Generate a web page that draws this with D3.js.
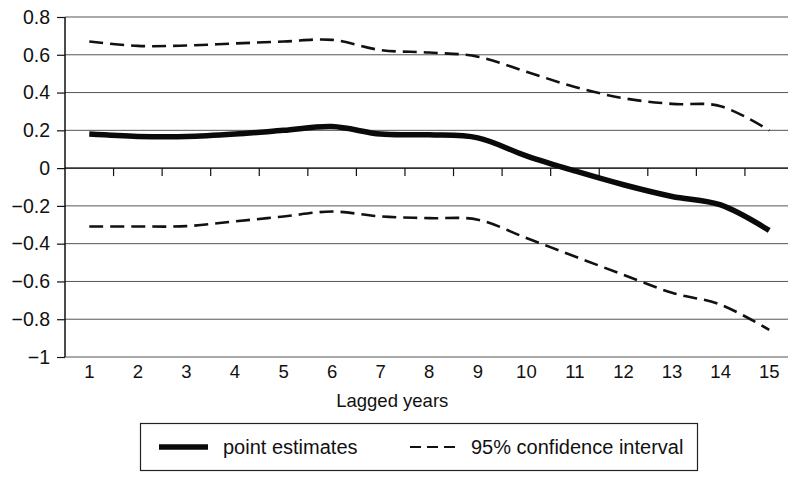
<!DOCTYPE html>
<html><head><meta charset="utf-8">
<script src="https://cdn.jsdelivr.net/npm/d3@7"></script>
<style>body{margin:0;background:#fff}svg{display:block}text{font-family:"Liberation Sans",Arial,sans-serif;fill:#111}</style>
</head><body><svg id="c" width="788" height="477"></svg>
<script>
const categories = ["1","2","3","4","5","6","7","8","9","10","11","12","13","14","15"];
const pointEstimates = [0.18,0.168,0.167,0.18,0.2,0.22,0.18,0.176,0.16,0.065,-0.015,-0.088,-0.15,-0.195,-0.33];
const upperCI = [0.67,0.647,0.649,0.66,0.67,0.679,0.625,0.612,0.59,0.51,0.43,0.37,0.34,0.328,0.2];
const lowerCI = [-0.309,-0.309,-0.307,-0.282,-0.256,-0.23,-0.256,-0.265,-0.273,-0.37,-0.468,-0.565,-0.66,-0.723,-0.856];
const yTicks = [-1,-0.8,-0.6,-0.4,-0.2,0,0.2,0.4,0.6,0.8];
const xTitle = "Lagged years";
const legendLabels = ["point estimates","95% confidence interval"];

const svg = d3.select("#c");
const L = 65, R = 793.5, T = 17, B = 357;
const x = d3.scaleBand().domain(categories).range([L, R]);
const y = d3.scaleLinear().domain([-1, 0.8]).range([B, T]);
const fmt = v => v === 0 ? "0" : (v === -1 ? "\u22121" : (v < 0 ? "\u2212" + Math.abs(v).toFixed(1) : v.toFixed(1)));

// gridlines
svg.append("g").selectAll("line").data(yTicks).join("line")
  .attr("x1", L).attr("x2", R).attr("y1", d => y(d)).attr("y2", d => y(d))
  .attr("stroke", "#555").attr("stroke-width", 1);

// y axis
const yAxis = svg.append("g").attr("transform", `translate(${L},0)`)
  .call(d3.axisLeft(y).tickValues(yTicks).tickFormat(fmt).tickSize(8).tickPadding(7));
yAxis.select(".domain").remove();
yAxis.selectAll(".tick line").attr("stroke", "#111").attr("stroke-width", 1.2);
yAxis.selectAll("text").style("font-size", "19.5px").attr("fill", "#111");
svg.append("line").attr("x1", L).attr("x2", L).attr("y1", y(0.8)).attr("y2", y(-1))
  .attr("stroke", "#111").attr("stroke-width", 1.5);

// x axis at zero with ticks between categories
const bounds = categories.slice(1).map(c => x(c));
svg.append("line").attr("x1", L).attr("x2", R).attr("y1", y(0)).attr("y2", y(0))
  .attr("stroke", "#111").attr("stroke-width", 1.3);
svg.append("g").selectAll("line").data(bounds).join("line")
  .attr("x1", d => d).attr("x2", d => d).attr("y1", y(0)).attr("y2", y(0) + 8)
  .attr("stroke", "#111").attr("stroke-width", 1.2);

// x labels
svg.append("g").selectAll("text").data(categories).join("text")
  .attr("x", d => x(d) + x.bandwidth() / 2).attr("y", 378)
  .attr("text-anchor", "middle").style("font-size", "18.5px").text(d => d);

svg.append("text").attr("x", (L + R) / 2 - 37).attr("y", 407).attr("text-anchor", "middle")
  .style("font-size", "18.5px").text(xTitle);

// lines
const line = d3.line().x((d, i) => x(categories[i]) + x.bandwidth() / 2).y(d => y(d))
  .curve(d3.curveCatmullRom.alpha(0));
[upperCI, lowerCI].forEach(s => svg.append("path").datum(s).attr("d", line)
  .attr("fill", "none").attr("stroke", "#111").attr("stroke-width", 2.6)
  .attr("stroke-dasharray", "14,7"));
svg.append("path").datum(pointEstimates).attr("d", line)
  .attr("fill", "none").attr("stroke", "#0a0a0a").attr("stroke-width", 5.5);

// legend
const lg = svg.append("g");
lg.append("rect").attr("x", 140.5).attr("y", 423.5).attr("width", 557).attr("height", 47)
  .attr("fill", "none").attr("stroke", "#222").attr("stroke-width", 1.2);
lg.append("line").attr("x1", 159).attr("x2", 208).attr("y1", 447).attr("y2", 447)
  .attr("stroke", "#0a0a0a").attr("stroke-width", 5.5);
lg.append("text").attr("x", 223).attr("y", 454).style("font-size", "20px").text(legendLabels[0]);
lg.append("line").attr("x1", 410).attr("x2", 458).attr("y1", 447).attr("y2", 447)
  .attr("stroke", "#111").attr("stroke-width", 2.2).attr("stroke-dasharray", "11,6");
lg.append("text").attr("x", 471).attr("y", 454).style("font-size", "20px").text(legendLabels[1]);
</script></body></html>
